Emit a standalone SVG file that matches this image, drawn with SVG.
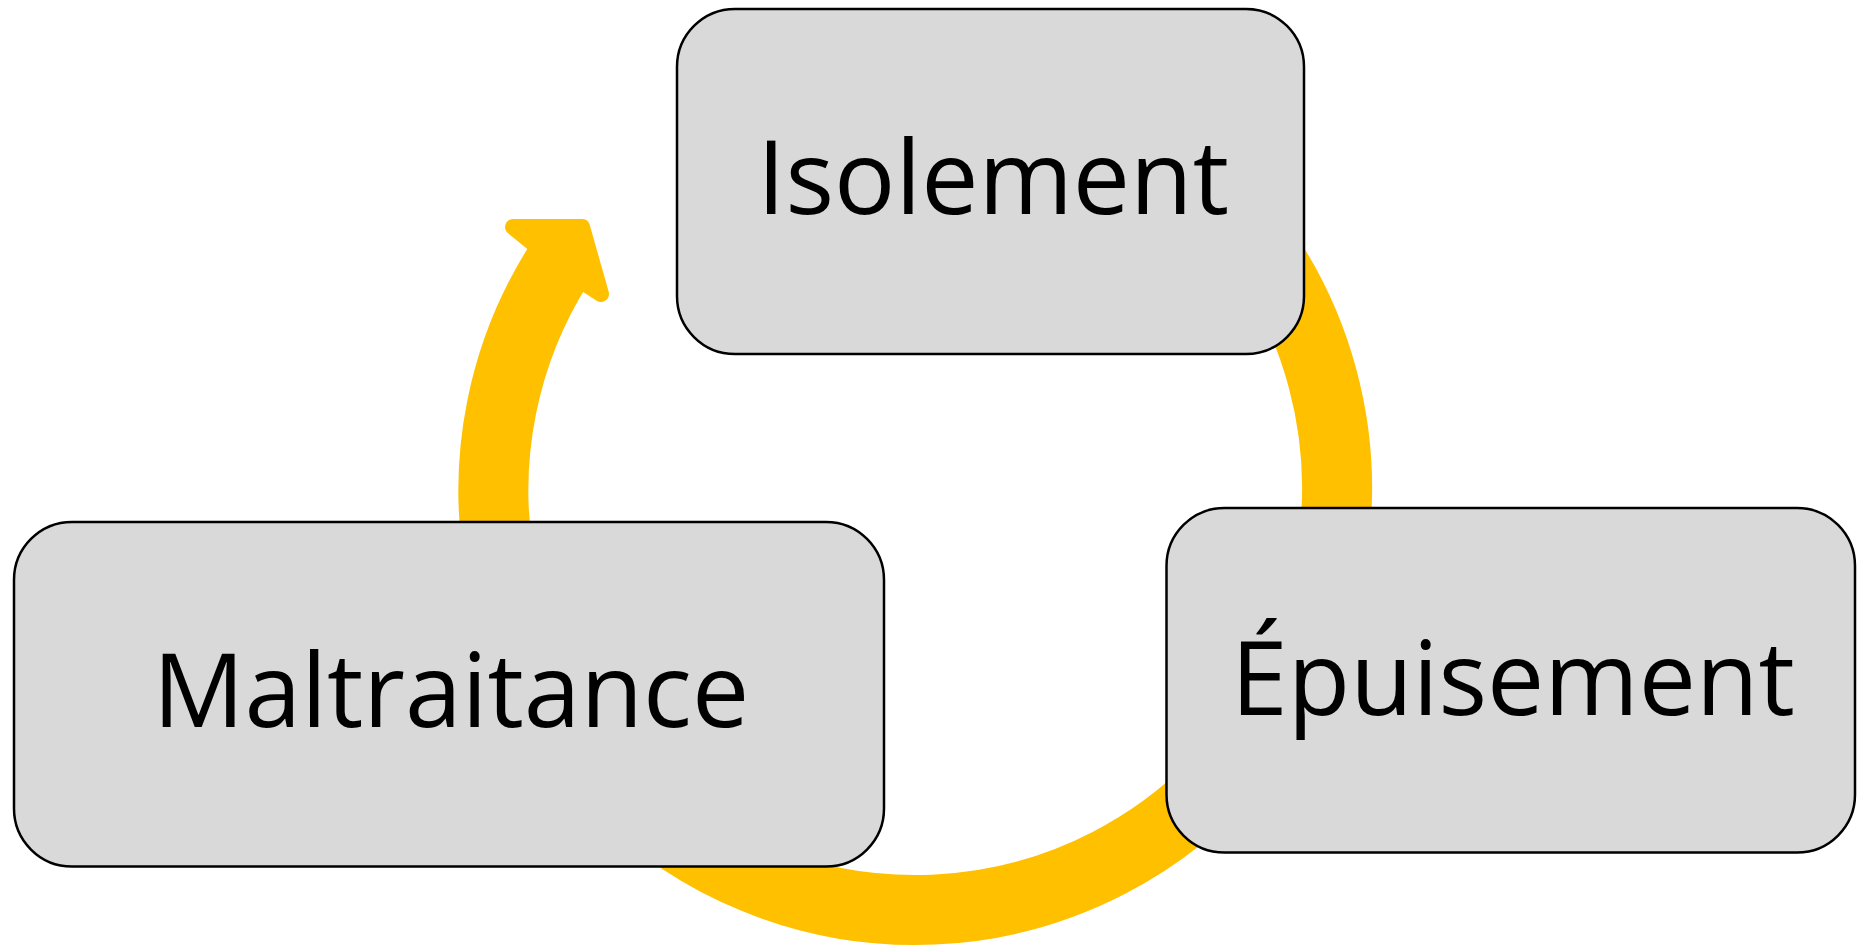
<svg xmlns="http://www.w3.org/2000/svg" width="1868" height="946" viewBox="0 0 1868 946">
<style>
.arc{fill:none;stroke:#FFC000;stroke-width:70;stroke-linecap:butt}
.head{fill:#FFC000;stroke:#FFC000;stroke-width:16;stroke-linejoin:round}
.box{fill:#D9D9D9;stroke:#000;stroke-width:2.5}
.lbl{font-family:"Open Sans","Noto Sans",sans-serif;font-size:102px;fill:#000;text-anchor:middle}
</style>
<rect width="1868" height="946" fill="#fff"/>
<g id="connectors">
<path class="arc" d="M499.4,561.3 A422,422 0 0 1 559.2,264.0"/>
<polygon class="head" points="545,253 513,227 582,227 601,294 578,279"/>
<path class="arc" d="M1238.3,216.7 A422,422 0 0 1 1330.6,561.3"/>
<path class="arc" d="M1238.3,759.3 A422,422 0 0 1 616.6,786.4"/>
</g>
<g id="node-isolement">
<rect class="box" x="677" y="9" width="627" height="345" rx="58" ry="58"/>
<text class="lbl" x="993" y="214">Isolement</text>
</g>
<g id="node-epuisement">
<rect class="box" x="1166.5" y="508" width="688.5" height="344.5" rx="58" ry="58"/>
<text class="lbl" x="1513" y="715">Épuisement</text>
</g>
<g id="node-maltraitance">
<rect class="box" x="14" y="522" width="870" height="344.5" rx="58" ry="58"/>
<text class="lbl" x="451" y="727">Maltraitance</text>
</g>
</svg>
